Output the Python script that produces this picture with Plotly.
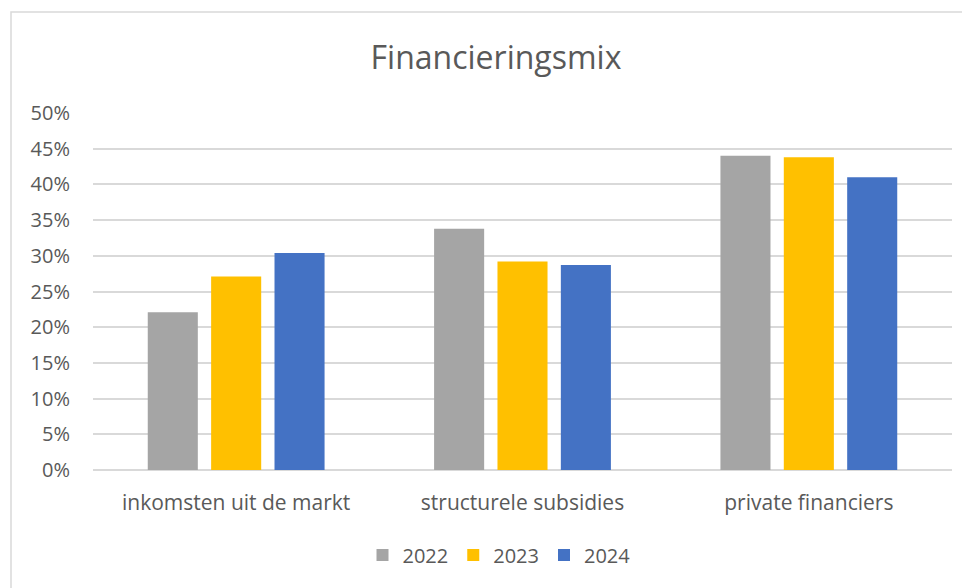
import plotly.graph_objects as go

categories = ["inkomsten uit de markt", "structurele subsidies", "private financiers"]
years = ["2022", "2023", "2024"]
values_2022 = [0.221, 0.338, 0.440]
values_2023 = [0.271, 0.292, 0.438]
values_2024 = [0.304, 0.287, 0.410]
tick_vals = [0, 0.05, 0.10, 0.15, 0.20, 0.25, 0.30, 0.35, 0.40, 0.45, 0.50]
tick_text = ["0%", "5%", "10%", "15%", "20%", "25%", "30%", "35%", "40%", "45%", "50%"]

series = [values_2022, values_2023, values_2024]
colors = ["#A5A5A5", "#FFC000", "#4472C4"]
TXT = "#595959"
FONT = "Open Sans, Segoe UI, sans-serif"

OFF = 8  # page body margin
W, H = 970 - OFF, 588 - OFF
L, R, T, B = 93 - OFF, 952 - OFF, 113 - OFF, 470 - OFF
pw, ph = R - L, B - T

def px_x(p):
    return (p - OFF - L) / pw

def px_y(p):
    return (B - (p - OFF)) / ph

fig = go.Figure()
for name, vals, col in zip(years, series, colors):
    fig.add_trace(go.Bar(
        name=name, x=categories, y=vals,
        marker=dict(color=col, line=dict(width=0)),
    ))

fig.update_layout(
    width=W, height=H,
    margin=dict(l=L, r=W - R, t=T, b=H - B),
    paper_bgcolor="white", plot_bgcolor="white",
    barmode="group", bargap=0.336, bargroupgap=0.21,
    font=dict(family=FONT, color=TXT, size=20),
    title=dict(text="Financieringsmix", x=px_x(496), xref="paper", xanchor="center",
               y=1 - (58 - OFF) / H, yref="container", yanchor="middle",
               font=dict(family=FONT, size=32, color=TXT)),
    showlegend=True,
    legend=dict(orientation="h", x=px_x(499), xanchor="center", y=px_y(555), yanchor="middle",
                font=dict(family=FONT, size=20, color=TXT), traceorder="normal",
                itemwidth=30, bgcolor="rgba(0,0,0,0)"),
    xaxis=dict(showgrid=False, showline=False, ticks="", tickfont=dict(size=21, color=TXT),
               ticklabelstandoff=18),
    yaxis=dict(range=[0, 0.5], tickvals=tick_vals, ticktext=tick_text, showgrid=True,
               gridcolor="#D9D9D9", gridwidth=1.5, zeroline=True, zerolinecolor="#D9D9D9",
               zerolinewidth=1.5, showline=False, ticks="", tickfont=dict(size=20, color=TXT),
               ticklabelstandoff=22),
    shapes=[dict(type="rect", xref="paper", yref="paper",
                 x0=px_x(11), x1=px_x(990), y0=px_y(620), y1=px_y(12),
                 line=dict(color="#D9D9D9", width=1.5), fillcolor="rgba(0,0,0,0)", layer="below")],
)

fig.write_html("out.html")
